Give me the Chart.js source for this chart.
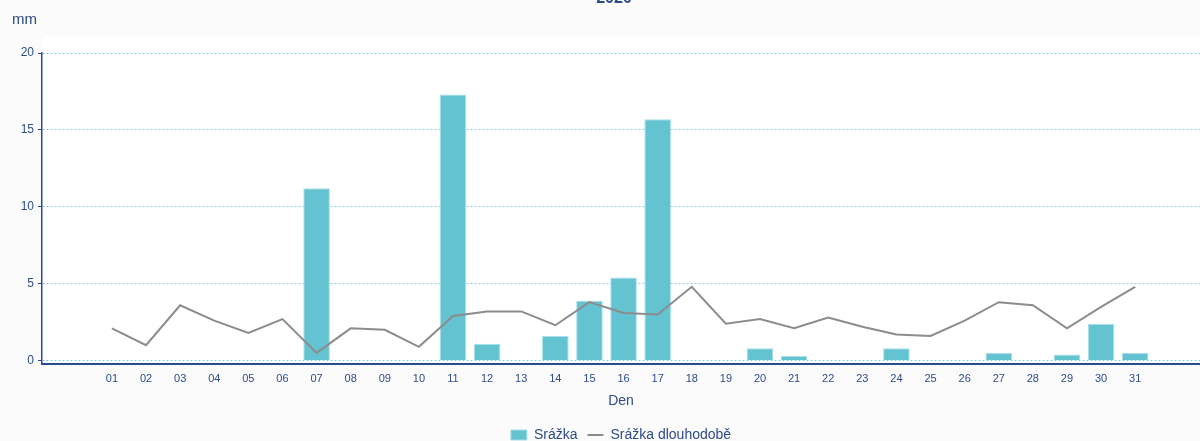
<!DOCTYPE html>
<html>
<head>
<meta charset="utf-8">
<script src="https://cdn.jsdelivr.net/npm/chart.js@4.4.0/dist/chart.umd.min.js"></script>
<style>
  html, body { margin: 0; padding: 0; background: #fbfbfb; overflow: hidden; }
  #wrap { width: 1200px; height: 441px; overflow: hidden; }
</style>
</head>
<body>
<div id="wrap"><canvas id="chart" width="1200" height="452"></canvas></div>
<script>
const days = ["01", "02", "03", "04", "05", "06", "07", "08", "09", "10",
              "11", "12", "13", "14", "15", "16", "17", "18", "19", "20",
              "21", "22", "23", "24", "25", "26", "27", "28", "29", "30", "31"]
const srazka = [0, 0, 0, 0, 0, 0, 11.2, 0, 0, 0,
                17.3, 1.1, 0, 1.6, 3.9, 5.4, 15.7, 0, 0, 0.8,
                0.3, 0, 0, 0.8, 0, 0, 0.5, 0, 0.4, 2.4, 0.5]
const dlouhodobe = [2.1, 1.0, 3.6, 2.6, 1.8, 2.7, 0.5, 2.1, 2.0, 0.9,
                    2.9, 3.2, 3.2, 2.3, 3.8, 3.1, 3.0, 4.8, 2.4, 2.7,
                    2.1, 2.8, 2.2, 1.7, 1.6, 2.6, 3.8, 3.6, 2.1, 3.5, 4.8]
const yTicks = [0, 5, 10, 15, 20]

const navy = "#2d4b8a"
const font = "'Liberation Sans', Arial, sans-serif"

const toPoints = (arr) => arr.map((v, i) => ({x: Number(days[i]), y: v}))

const background = {
    id: "background",
    beforeDraw(chart) {
        const ctx = chart.ctx
        const a = chart.chartArea
        ctx.save()
        ctx.fillStyle = "#fbfbfb"
        ctx.fillRect(0, 0, chart.width, chart.height)
        ctx.fillStyle = "#ffffff"
        ctx.fillRect(a.left, 36, a.right - a.left, a.bottom - 36)
        ctx.restore()
    },
    afterDraw(chart) {
        const ctx = chart.ctx
        ctx.save()
        ctx.fillStyle = navy
        ctx.font = "bold 16px " + font
        ctx.textAlign = "center"
        ctx.textBaseline = "middle"
        ctx.fillText("2020", 614, -1)
        ctx.font = "15px " + font
        ctx.textAlign = "left"
        ctx.fillText("mm", 12, 20)
        ctx.restore()
    }
}

new Chart(document.querySelector("#chart"), {
    type: "bar",
    plugins: [background],
    data: {
        datasets: [
            {
                type: "bar",
                label: "Srážka",
                data: toPoints(srazka),
                backgroundColor: "#63c3d1",
                borderColor: "#a8dfe7",
                borderWidth: 1,
                barPercentage: 0.78,
                categoryPercentage: 1,
                pointStyle: "rect",
                order: 2
            },
            {
                type: "line",
                label: "Srážka dlouhodobě",
                data: toPoints(dlouhodobe),
                borderColor: "#8c8c8c",
                backgroundColor: "#8c8c8c",
                borderWidth: 2,
                pointRadius: 0,
                tension: 0,
                pointStyle: "line",
                order: 1
            }
        ]
    },
    options: {
        responsive: false,
        animation: false,
        layout: {padding: {top: 53, left: 0, right: 0, bottom: 0}},
        scales: {
            x: {
                type: "linear",
                offset: false,
                min: -1.05,
                max: 32.9,
                afterBuildTicks: (scale) => { scale.ticks = days.map(d => ({value: Number(d)})) },
                ticks: {
                    color: navy,
                    font: {size: 11, family: font},
                    padding: 8,
                    maxRotation: 0,
                    autoSkip: false,
                    callback: (v) => days[v - 1]
                },
                grid: {display: false, drawTicks: false},
                border: {display: true, color: navy, width: 2},
                title: {
                    display: true,
                    text: "Den",
                    color: navy,
                    font: {size: 14, family: font},
                    padding: {top: 0, bottom: 8}
                }
            },
            y: {
                min: -0.22,
                max: 20,
                afterBuildTicks: (scale) => { scale.ticks = yTicks.map(v => ({value: v})) },
                afterFit: (scale) => { scale.width = 42 },
                ticks: {
                    color: navy,
                    font: {size: 12, family: font},
                    padding: 4
                },
                grid: {
                    color: "#86d0e4",
                    tickColor: navy,
                    tickLength: 4,
                    lineWidth: 1
                },
                border: {display: true, color: navy, width: 1.5, dash: [2, 2]}
            }
        },
        plugins: {
            tooltip: {enabled: false},
            legend: {
                position: "bottom",
                fullSize: false,
                labels: {
                    color: navy,
                    font: {size: 14, family: font},
                    usePointStyle: true,
                    boxWidth: 10,
                    boxHeight: 10,
                    pointStyleWidth: 16,
                    padding: 10,
                    sort: (a, b) => a.datasetIndex - b.datasetIndex
                }
            }
        }
    }
})
</script>
</body>
</html>
